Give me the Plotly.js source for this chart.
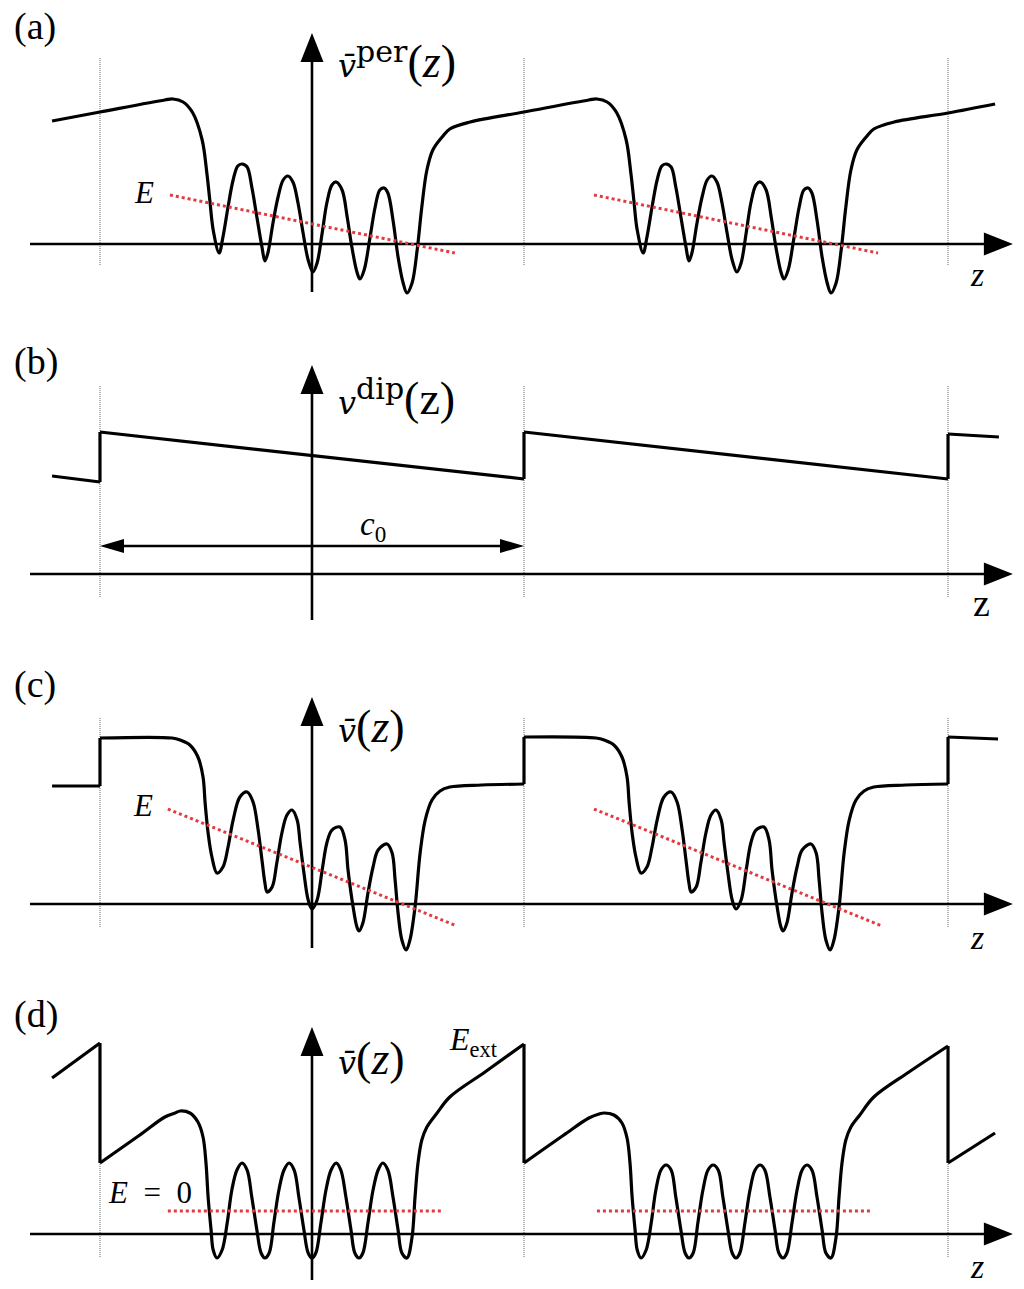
<!DOCTYPE html>
<html><head><meta charset="utf-8">
<script src="https://cdn.plot.ly/plotly-3.0.1.min.js"></script>
<style>html,body{margin:0;padding:0;background:#fff}</style>
</head><body><div id="chart" style="width:1024px;height:1289px"></div>
<script>
// z in units of the period c0 (origin at the vertical axis), v in arbitrary potential units
const zA = [-0.613,-0.500,-0.347,-0.328,-0.304,-0.281,-0.259,-0.248,-0.241,-0.233,-0.219,-0.210,-0.198,-0.186,-0.175,-0.165,-0.153,-0.142,-0.130,-0.118,-0.111,-0.104,-0.092,-0.080,-0.068,-0.057,-0.045,-0.033,-0.021,-0.009,0.002,0.012,0.024,0.035,0.047,0.057,0.071,0.083,0.094,0.106,0.113,0.123,0.137,0.149,0.160,0.170,0.179,0.191,0.203,0.215,0.224,0.236,0.248,0.259,0.271,0.285,0.307,0.325,0.373,0.500,
  0.653,0.672,0.696,0.719,0.741,0.752,0.759,0.767,0.781,0.790,0.802,0.814,0.825,0.835,0.847,0.858,0.870,0.882,0.889,0.896,0.908,0.920,0.932,0.943,0.955,0.967,0.979,0.991,1.002,1.012,1.024,1.035,1.047,1.057,1.071,1.083,1.094,1.106,1.113,1.123,1.137,1.149,1.160,1.170,1.179,1.191,1.203,1.215,1.224,1.236,1.248,1.259,1.271,1.285,1.307,1.325,1.373,1.500,1.611];
const vA = [1.23,1.32,1.44,1.45,1.42,1.31,1.04,0.71,0.44,0.14,-0.09,0.07,0.37,0.64,0.78,0.80,0.77,0.57,0.27,-0.03,-0.17,-0.09,0.21,0.47,0.64,0.68,0.62,0.41,0.11,-0.16,-0.28,-0.19,0.11,0.41,0.59,0.62,0.54,0.27,-0.03,-0.28,-0.35,-0.26,0.07,0.37,0.54,0.56,0.51,0.24,-0.13,-0.39,-0.49,-0.39,-0.06,0.37,0.74,0.94,1.07,1.15,1.22,1.32,
  1.44,1.45,1.42,1.31,1.04,0.71,0.44,0.14,-0.09,0.07,0.37,0.64,0.78,0.80,0.77,0.57,0.27,-0.03,-0.17,-0.09,0.21,0.47,0.64,0.68,0.62,0.41,0.11,-0.16,-0.28,-0.19,0.11,0.41,0.59,0.62,0.54,0.27,-0.03,-0.28,-0.35,-0.26,0.07,0.37,0.54,0.56,0.51,0.24,-0.13,-0.39,-0.49,-0.39,-0.06,0.37,0.74,0.94,1.07,1.15,1.22,1.31,1.40];

const zB = [-0.613,-0.5,-0.5,0.5,0.5,1.5,1.5,1.62];
const vB = [0.98,0.92,1.42,0.95,1.42,0.95,1.40,1.37];

const zC = [-0.613,-0.500,-0.500,-0.330,-0.311,-0.288,-0.269,-0.257,-0.252,-0.245,-0.236,-0.224,-0.210,-0.198,-0.186,-0.170,-0.153,-0.139,-0.127,-0.118,-0.111,-0.106,-0.094,-0.083,-0.071,-0.059,-0.047,-0.035,-0.028,-0.019,-0.009,0.000,0.012,0.024,0.035,0.047,0.066,0.078,0.085,0.097,0.106,0.111,0.120,0.132,0.144,0.156,0.177,0.189,0.196,0.203,0.212,0.222,0.231,0.243,0.255,0.267,0.283,0.302,0.325,0.400,0.500,
  0.500,0.670,0.689,0.712,0.731,0.743,0.748,0.755,0.764,0.776,0.790,0.802,0.814,0.830,0.847,0.861,0.873,0.882,0.889,0.894,0.906,0.917,0.929,0.941,0.953,0.965,0.972,0.981,0.991,1.000,1.012,1.024,1.035,1.047,1.066,1.078,1.085,1.097,1.106,1.111,1.120,1.132,1.144,1.156,1.177,1.189,1.196,1.203,1.212,1.222,1.231,1.243,1.255,1.267,1.283,1.302,1.325,1.400,1.500,1.500,1.618];
const vC = [1.18,1.18,1.66,1.66,1.64,1.59,1.47,1.27,1.01,0.71,0.47,0.31,0.37,0.57,0.84,1.07,1.12,1.02,0.74,0.44,0.21,0.12,0.17,0.41,0.71,0.89,0.94,0.84,0.61,0.31,0.04,-0.05,0.04,0.34,0.61,0.74,0.77,0.64,0.34,-0.03,-0.23,-0.27,-0.19,0.11,0.37,0.54,0.60,0.51,0.24,-0.09,-0.36,-0.46,-0.36,-0.03,0.51,0.84,1.04,1.13,1.17,1.19,1.20,
  1.67,1.66,1.64,1.59,1.47,1.27,1.01,0.71,0.47,0.31,0.37,0.57,0.84,1.07,1.12,1.02,0.74,0.44,0.21,0.12,0.17,0.41,0.71,0.89,0.94,0.84,0.61,0.31,0.04,-0.05,0.04,0.34,0.61,0.74,0.77,0.64,0.34,-0.03,-0.23,-0.27,-0.19,0.11,0.37,0.54,0.60,0.51,0.24,-0.09,-0.36,-0.46,-0.36,-0.03,0.51,0.84,1.04,1.13,1.17,1.19,1.20,1.67,1.65];

const zD = [-0.613,-0.500,-0.500,-0.406,-0.347,-0.323,-0.311,-0.288,-0.269,-0.257,-0.250,-0.245,-0.238,-0.233,-0.224,-0.212,-0.200,-0.189,-0.177,-0.165,-0.153,-0.142,-0.130,-0.120,-0.111,-0.101,-0.090,-0.078,-0.066,-0.054,-0.042,-0.031,-0.019,-0.009,0.000,0.009,0.021,0.033,0.045,0.057,0.068,0.080,0.092,0.101,0.111,0.120,0.132,0.144,0.156,0.167,0.179,0.191,0.203,0.212,0.224,0.236,0.243,0.250,0.259,0.271,0.295,0.325,0.408,0.500,
  0.500,0.594,0.653,0.677,0.689,0.712,0.731,0.743,0.750,0.755,0.762,0.767,0.776,0.788,0.800,0.811,0.823,0.835,0.847,0.858,0.870,0.880,0.889,0.899,0.910,0.922,0.934,0.946,0.958,0.969,0.981,0.991,1.000,1.009,1.021,1.033,1.045,1.057,1.068,1.080,1.092,1.101,1.111,1.120,1.132,1.144,1.156,1.167,1.179,1.191,1.203,1.212,1.224,1.236,1.243,1.250,1.259,1.271,1.292,1.325,1.408,1.500,1.500,1.611];
const vD = [1.56,1.91,0.71,0.99,1.17,1.21,1.23,1.21,1.12,0.97,0.71,0.37,0.04,-0.16,-0.24,-0.16,0.11,0.44,0.64,0.71,0.64,0.37,0.04,-0.19,-0.24,-0.19,0.11,0.44,0.64,0.71,0.64,0.37,0.04,-0.19,-0.24,-0.19,0.11,0.44,0.64,0.71,0.64,0.37,0.04,-0.19,-0.24,-0.19,0.11,0.44,0.64,0.71,0.64,0.37,0.04,-0.19,-0.24,-0.03,0.37,0.71,0.94,1.07,1.21,1.37,1.62,1.90,
  0.71,0.99,1.16,1.20,1.21,1.19,1.11,0.96,0.71,0.37,0.04,-0.16,-0.24,-0.16,0.11,0.44,0.64,0.69,0.64,0.37,0.04,-0.19,-0.24,-0.19,0.11,0.44,0.64,0.69,0.64,0.37,0.04,-0.19,-0.24,-0.19,0.11,0.44,0.64,0.69,0.64,0.37,0.04,-0.19,-0.24,-0.19,0.11,0.44,0.64,0.69,0.64,0.37,0.04,-0.19,-0.24,-0.03,0.37,0.71,0.94,1.07,1.19,1.37,1.62,1.88,0.71,1.01];

// red dotted level lines E and E = 0
const zEa = [-0.335,0.337,null,0.665,1.335];
const vEa = [0.49,-0.09,null,0.49,-0.09];
const zEc = [-0.340,0.342,null,0.665,1.344];
const vEc = [0.95,-0.22,null,0.95,-0.22];
const zEd = [-0.340,0.307,null,0.672,1.316];
const vEd = [0.23,0.23,null,0.23,0.23];

// cell boundaries and the period arrow c0
const zCells = [-0.5,0.5,1.5];
const c0Z = [-0.5,0.5];
const c0V = 0.28;

const panelLabels = ['(a)','(b)','(c)','(d)'];
const V = (bar)=>'<span style="font-family:DejaVu Serif;font-size:32px"><i>v'+(bar?'\u0304':'')+'</i></span>';
const SUP = (t)=>'<sup><span style="font-family:DejaVu Serif;font-size:30px">'+t+'</span></sup>';
const BIGZ = (z)=>'<span style="font-size:46px">('+z+')</span>';
const yLabels = [V(true)+SUP('per')+BIGZ('<i>z</i>'),
                 V(false)+SUP('dip')+BIGZ('z'),
                 V(true)+BIGZ('<i>z</i>'),
                 V(true)+BIGZ('<i>z</i>')];
const zLabels = ['<i>z</i>','z','<i>z</i>','<i>z</i>'];

const FONT = 'Liberation Serif, Times New Roman, serif';
const yrefs = ['y','y2','y3','y4'];
const traces = [];

function addCurve(z, v, yr){
  let sz=[z[0]], sv=[v[0]];
  const push=(a,b,shape)=>traces.push({type:'scatter',mode:'lines',x:a,y:b,xaxis:'x',yaxis:yr,
    hoverinfo:'skip',line:{color:'#000',width:3.2,shape:shape,smoothing:1}});
  for(let i=1;i<z.length;i++){
    if(z[i]===z[i-1]){
      if(sz.length>1) push(sz,sv,'spline');
      push([z[i-1],z[i]],[v[i-1],v[i]],'linear');
      sz=[z[i]]; sv=[v[i]];
    } else { sz.push(z[i]); sv.push(v[i]); }
  }
  if(sz.length>1) push(sz,sv,'spline');
}
function addRed(z,v,yr){
  traces.push({type:'scatter',mode:'lines',x:z,y:v,xaxis:'x',yaxis:yr,hoverinfo:'skip',
    line:{color:'#e23a3e',width:3,dash:'3px,3px'},connectgaps:false});
}
addCurve(zA,vA,'y'); addCurve(zB,vB,'y2'); addCurve(zC,vC,'y3'); addCurve(zD,vD,'y4');
addRed(zEa,vEa,'y'); addRed(zEc,vEc,'y3'); addRed(zEd,vEd,'y4');

const vBottom=[-0.48,-0.46,-0.44,-0.46], vTop=[2.11,2.09,2.07,2.07];
const cellTop=[1.87,1.89,1.86,1.89], cellBot=[-0.21,-0.23,-0.23,-0.23];
const shapes=[];
yrefs.forEach((yr,i)=>{
  zCells.forEach(zc=>shapes.push({type:'line',xref:'x',yref:yr,x0:zc,x1:zc,y0:cellBot[i],y1:cellTop[i],
    line:{color:'#8a8a8a',width:1.3,dash:'1px,1px'},layer:'below'}));
  shapes.push({type:'line',xref:'x',yref:yr,x0:-0.665,x1:1.61,y0:0,y1:0,line:{color:'#000',width:2.6},layer:'below'});
  shapes.push({type:'path',xref:'x',yref:yr,xsizemode:'pixel',ysizemode:'pixel',xanchor:1.653,yanchor:0,
    path:'M0,0L-29,11.5L-29,-11.5Z',fillcolor:'#000',line:{width:0}});
  shapes.push({type:'line',xref:'x',yref:yr,x0:0,x1:0,y0:vBottom[i],y1:vTop[i]-0.12,line:{color:'#000',width:2.6},layer:'below'});
  shapes.push({type:'path',xref:'x',yref:yr,xsizemode:'pixel',ysizemode:'pixel',xanchor:0,yanchor:vTop[i],
    path:'M0,0L-11.5,-29L11.5,-29Z',fillcolor:'#000',line:{width:0}});
});
shapes.push({type:'line',xref:'x',yref:'y2',x0:c0Z[0]+0.02,x1:c0Z[1]-0.02,y0:c0V,y1:c0V,line:{color:'#000',width:2.6}});
shapes.push({type:'path',xref:'x',yref:'y2',xsizemode:'pixel',ysizemode:'pixel',xanchor:c0Z[0],yanchor:c0V,
  path:'M0,0L24,7L24,-7Z',fillcolor:'#000',line:{width:0}});
shapes.push({type:'path',xref:'x',yref:'y2',xsizemode:'pixel',ysizemode:'pixel',xanchor:c0Z[1],yanchor:c0V,
  path:'M0,0L-24,7L-24,-7Z',fillcolor:'#000',line:{width:0}});

const ann=[];
const plY=[2.18,2.12,2.195,2.195];
const ylY=[1.835,1.77,1.78,1.76];
const zlY=[-0.31,-0.29,-0.33,-0.33];
yrefs.forEach((yr,i)=>{
  ann.push({xref:'x',yref:yr,x:-0.708,y:plY[i],xanchor:'left',yanchor:'middle',text:panelLabels[i],showarrow:false,font:{family:FONT,size:38,color:'#000'}});
  ann.push({xref:'x',yref:yr,x:0.057,y:ylY[i],xanchor:'left',yanchor:'middle',text:yLabels[i],showarrow:false,font:{family:FONT,size:36,color:'#000'}});
  ann.push({xref:'x',yref:yr,x:i===1?1.578:1.568,y:zlY[i],xanchor:'center',yanchor:'middle',text:zLabels[i],showarrow:false,font:{family:FONT,size:i===1?38:34,color:'#000'}});
});
ann.push({xref:'x',yref:'y',x:-0.396,y:0.52,text:'<i>E</i>',showarrow:false,font:{family:FONT,size:31,color:'#000'}});
ann.push({xref:'x',yref:'y3',x:-0.399,y:0.99,text:'<i>E</i>',showarrow:false,font:{family:FONT,size:31,color:'#000'}});
ann.push({xref:'x',yref:'y4',x:-0.382,y:0.41,text:'<i>E</i>\u2002=\u20020',showarrow:false,font:{family:FONT,size:31,color:'#000'}});
ann.push({xref:'x',yref:'y4',x:0.318,y:1.93,xanchor:'left',text:'<i>E</i><sub>ext</sub>',showarrow:false,font:{family:FONT,size:32,color:'#000'}});
ann.push({xref:'x',yref:'y2',x:0.108,y:0.48,xanchor:'left',text:'<i>c</i><sub>0</sub>',showarrow:false,font:{family:FONT,size:33,color:'#000'}});

const yax=(dom,rng)=>({domain:dom,range:rng,visible:false,fixedrange:true,showgrid:false,zeroline:false});
const layout={
  width:1024,height:1289,margin:{l:0,r:0,t:0,b:0},paper_bgcolor:'#fff',plot_bgcolor:'rgba(0,0,0,0)',showlegend:false,
  xaxis:{range:[-0.7358,1.6792],visible:false,fixedrange:true,showgrid:false,zeroline:false,anchor:'y'},
  yaxis:yax([0.7502,1],[-0.78,2.44]),
  yaxis2:yax([0.4996,0.7502],[-0.71,2.52]),
  yaxis3:yax([0.2498,0.4996],[-0.63,2.59]),
  yaxis4:yax([0,0.2498],[-0.55,2.67]),
  shapes:shapes,annotations:ann
};
Plotly.newPlot('chart',traces,layout,{staticPlot:true,displayModeBar:false});
</script></body></html>
